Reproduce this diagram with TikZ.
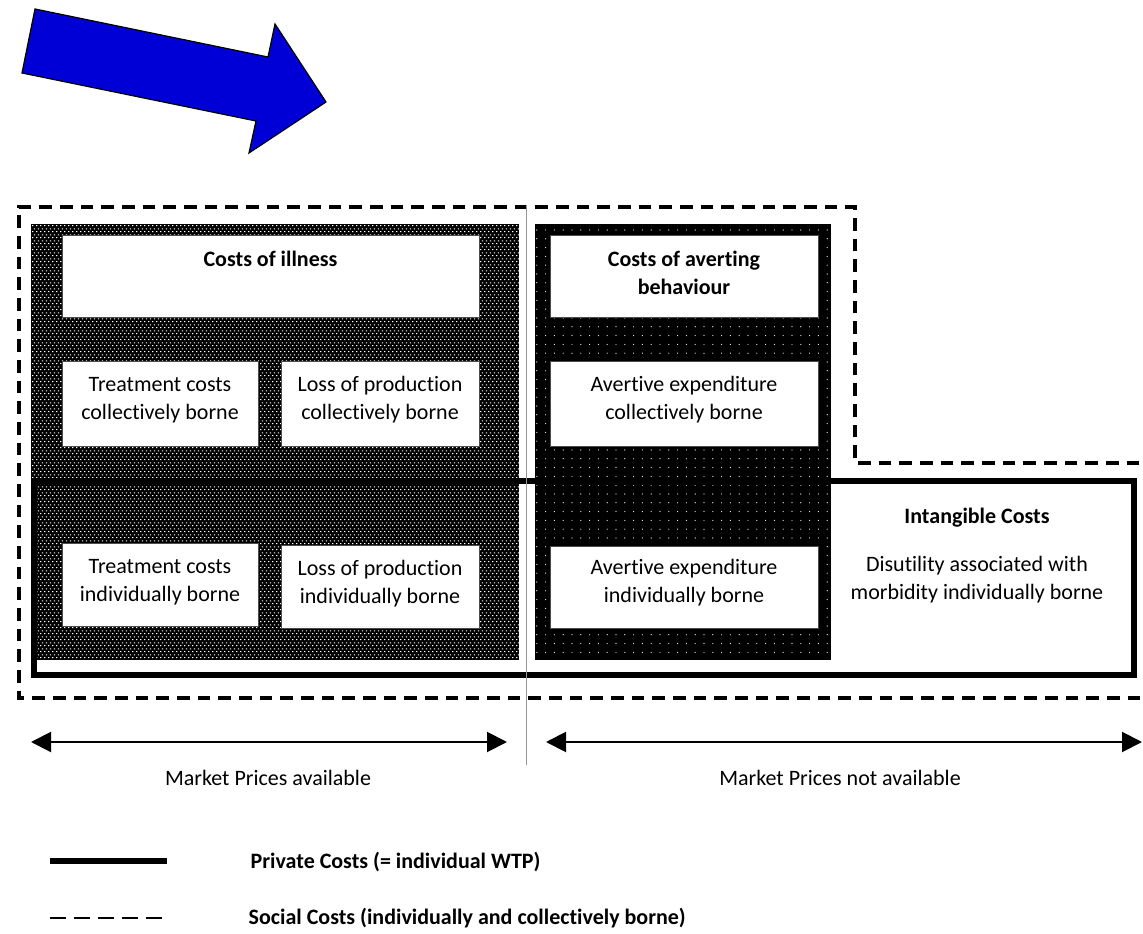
\documentclass[tikz,border=0pt]{standalone}
\usepackage{fontspec}
\setmainfont{Carlito}[Ligatures=NoCommon]
\usetikzlibrary{arrows.meta,patterns,patterns.meta}

% white brick dashes on black
\pgfdeclarepatternformonly{weave}{\pgfqpoint{0pt}{0pt}}{\pgfqpoint{3pt}{4.4pt}}{\pgfqpoint{3pt}{4.4pt}}{%
  \pgfpathrectangle{\pgfqpoint{0.2pt}{0.6pt}}{\pgfqpoint{1.2pt}{0.8pt}}%
  \pgfpathrectangle{\pgfqpoint{1.7pt}{2.8pt}}{\pgfqpoint{1.2pt}{0.8pt}}%
  \pgfusepath{fill}}

\tikzset{
  lbl/.style={align=center, font=\fontsize{16.5}{21}\selectfont},
  cellbox/.style={draw=black!70, fill=white, line width=0.75},
  private/.style={line width=4.5},
  social/.style={line width=2.6, dash pattern=on 9.5pt off 6pt},
  span/.style={line width=1.5, {Triangle[length=15pt,width=15pt]}-{Triangle[length=15pt,width=15pt]}},
}

\begin{document}
\begin{tikzpicture}[x=0.75pt,y=0.75pt,yscale=-1,xscale=1]
\useasboundingbox (0,0) rectangle (1143,934);

%Shape: Arrow
\draw  [fill={rgb, 255:red, 0; green, 0; blue, 214 }, line width=0.9]  (35,9) -- (268,57) -- (275,24) -- (326,102) -- (249,153) -- (256,121) -- (22,73) -- cycle ;

%Social costs outline
\draw  [social]  (1160,463) -- (855,463) -- (855,207) -- (19,207) -- (19,698) -- (1160,698) ;

%Shape: Rectangle (costs of illness)
\draw  [pattern=weave, pattern color=white, preaction={fill=black}, draw=none]  (31,224) rectangle (519,660) ;
%Shape: Rectangle (costs of averting behaviour)
\draw  [pattern={Dots[distance=6.6pt, radius=0.45pt]}, pattern color=white, preaction={fill=black}, draw=none]  (535,224) rectangle (831,660) ;

%Private costs outline
\draw  [private]  (34,481) -- (1134,481) -- (1134,675) -- (34,675) -- cycle ;
\fill  [black]  (535,477) rectangle (831,485) ;

%Boxes
\draw  [cellbox]  (62,236) rectangle (479,318) ;
\draw  [cellbox]  (62,362) rectangle (258,446) ;
\draw  [cellbox]  (281,362) rectangle (479,446) ;
\draw  [cellbox]  (62,543) rectangle (258,626) ;
\draw  [cellbox]  (281,545) rectangle (479,628) ;
\draw  [cellbox]  (550,236) rectangle (818,318) ;
\draw  [cellbox]  (550,362) rectangle (818,446) ;
\draw  [cellbox]  (550,546) rectangle (818,628) ;

%Divider
\draw  [color={rgb, 255:red, 150; green, 150; blue, 150 }, line width=0.75]  (526,205) -- (526,765) ;

% Text Node
\draw (270.5,259) node [lbl] (illness) {\bfseries Costs of illness};
% Text Node
\draw (160,400) node [lbl] (treatcoll) {Treatment costs\\collectively borne};
% Text Node
\draw (380,400) node [lbl] (losscoll) {Loss of production\\collectively borne};
% Text Node
\draw (160,582) node [lbl] (treatind) {Treatment costs\\individually borne};
% Text Node
\draw (380,584) node [lbl] (lossind) {Loss of production\\individually borne};
% Text Node
\draw (684,273) node [lbl] (averting) {\bfseries Costs of averting\\\bfseries behaviour};
% Text Node
\draw (684,400) node [lbl] (avertcoll) {Avertive expenditure\\collectively borne};
% Text Node
\draw (684,583) node [lbl] (avertind) {Avertive expenditure\\individually borne};
% Text Node
\draw (977,518) node [lbl] (intangible) {\bfseries Intangible Costs};
% Text Node
\draw (977,580) node [lbl] (disutility) {Disutility associated with\\morbidity individually borne};

%Market price spans
\coordinate (availL) at (31,742);
\coordinate (availR) at (507,742);
\coordinate (notavailL) at (546,742);
\coordinate (notavailR) at (1142,742);
\draw  [span]  (availL) -- (availR) ;
\draw  [span]  (notavailL) -- (notavailR) ;
% Text Node
\draw (268,778) node [lbl] (avail) {Market Prices available};
% Text Node
\draw (840,778) node [lbl] (notavail) {Market Prices not available};

%Legend
\coordinate (privA) at (50,861);
\coordinate (privB) at (167,861);
\coordinate (socA) at (50,918);
\coordinate (socB) at (165,918);
\draw  [line width=5.2]  (privA) -- (privB) ;
\draw  [line width=1.5, dash pattern=on 12pt off 6pt]  (socA) -- (socB) ;
% Text Node
\draw (246,862) node [lbl, anchor=west] (privlbl) {\bfseries Private Costs (= individual WTP)};
% Text Node
\draw (244,918) node [lbl, anchor=west] (soclbl) {\bfseries Social Costs (individually and collectively borne)};

\end{tikzpicture}
\end{document}
